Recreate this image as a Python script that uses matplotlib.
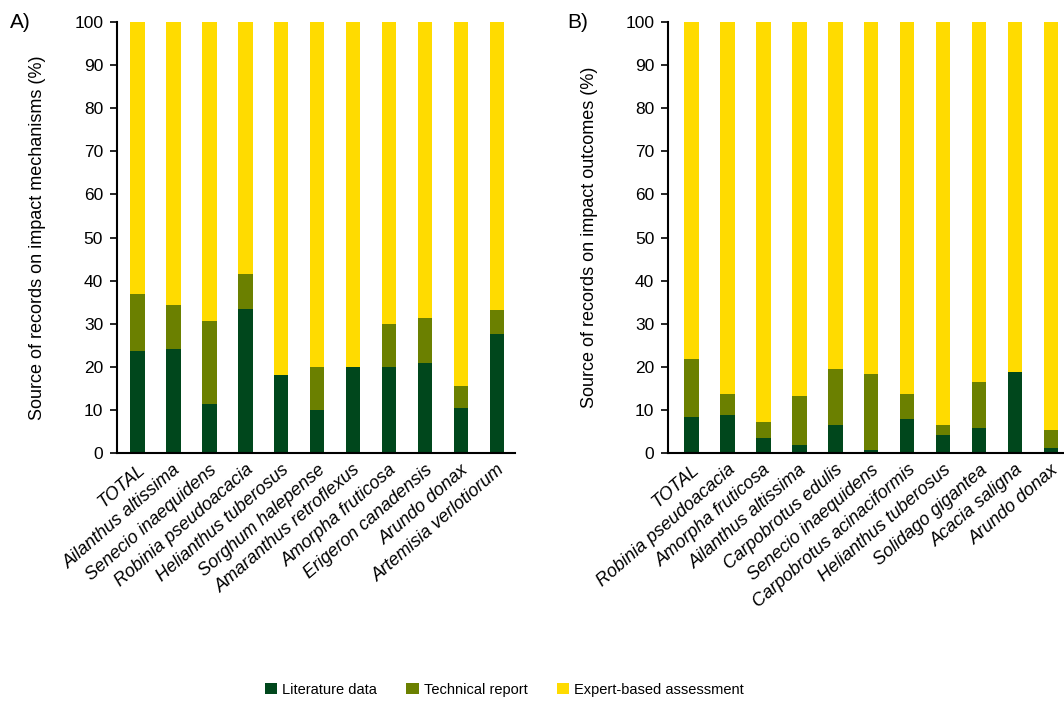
import matplotlib
matplotlib.use("Agg")
import matplotlib.pyplot as plt
import numpy as np
from matplotlib.patches import Patch

# Panel A: impact mechanisms
species_a = ["TOTAL", "Ailanthus altissima", "Senecio inaequidens", "Robinia pseudoacacia",
             "Helianthus tuberosus", "Sorghum halepense", "Amaranthus retroflexus",
             "Amorpha fruticosa", "Erigeron canadensis", "Arundo donax", "Artemisia verlotiorum"]
lit_a = [23.7, 24.1, 11.4, 33.3, 18.1, 9.9, 20.0, 20.0, 20.9, 10.4, 27.7]
tech_a = [13.1, 10.3, 19.2, 8.2, 0.0, 10.0, 0.0, 9.9, 10.5, 5.2, 5.5]

# Panel B: impact outcomes
species_b = ["TOTAL", "Robinia pseudoacacia", "Amorpha fruticosa", "Ailanthus altissima",
             "Carpobrotus edulis", "Senecio inaequidens", "Carpobrotus acinaciformis",
             "Helianthus tuberosus", "Solidago gigantea", "Acacia saligna", "Arundo donax"]
lit_b = [8.4, 8.8, 3.5, 1.8, 6.6, 0.8, 7.8, 4.2, 5.8, 18.7, 1.1]
tech_b = [13.5, 5.0, 3.7, 11.5, 12.9, 17.5, 6.0, 2.2, 10.6, 0.0, 4.3]

series_names = ["Literature data", "Technical report", "Expert-based assessment"]
colors = ["#00471c", "#6b8000", "#ffdb00"]

narrow = ["Liberation Sans Narrow", "Liberation Sans", "DejaVu Sans"]
regular = ["Liberation Sans", "DejaVu Sans"]

fig = plt.figure(figsize=(10.64, 7.03), dpi=100)
axA = fig.add_axes([0.110, 0.3556, 0.374, 0.6131])
axB = fig.add_axes([0.628, 0.3556, 0.375, 0.6131])


def draw(ax, species, lit, tech, xlim, ylabel):
    x = np.arange(len(species))
    lit = np.array(lit)
    tech = np.array(tech)
    exp = 100 - lit - tech
    w = 0.41
    ax.bar(x, lit, w, color=colors[0], zorder=2)
    ax.bar(x, tech, w, bottom=lit, color=colors[1], zorder=2)
    ax.bar(x, exp, w, bottom=lit + tech, color=colors[2], zorder=2)
    ax.set_xlim(*xlim)
    ax.set_ylim(0, 100)
    ax.set_yticks(np.arange(0, 101, 10))
    ax.set_yticklabels([str(v) for v in range(0, 101, 10)], family=narrow, fontsize=12.5)
    ax.set_xticks(x)
    ax.set_xticklabels(species, rotation=41, ha="right", rotation_mode="anchor",
                       family=regular, style="italic", fontsize=13)
    ax.tick_params(axis="x", length=0, pad=6)
    ax.tick_params(axis="y", length=5, width=1.2, direction="out", pad=5)
    for s in ["top", "right"]:
        ax.spines[s].set_visible(False)
    for s in ["left", "bottom"]:
        ax.spines[s].set_linewidth(1.5)
    ax.set_ylabel(ylabel, family=narrow, fontsize=13, labelpad=20)


draw(axA, species_a, lit_a, tech_a, (-0.56, 10.5), "Source of records on impact mechanisms (%)")
draw(axB, species_b, lit_b, tech_b, (-0.64, 10.45), "Source of records on impact outcomes (%)")

fig.text(0.009, 0.968, "A)", family=regular, fontsize=15, va="center")
fig.text(0.533, 0.968, "B)", family=regular, fontsize=15, va="center")

handles = [Patch(facecolor=c, edgecolor="none") for c in colors]
fig.legend(handles, series_names, loc="center", bbox_to_anchor=(0.474, 0.019), ncol=3,
           frameon=False, prop={"family": narrow, "size": 10.5}, handlelength=0.85,
           handleheight=0.85, columnspacing=2.0, handletextpad=0.35)

fig.savefig("out.png", dpi=100)
